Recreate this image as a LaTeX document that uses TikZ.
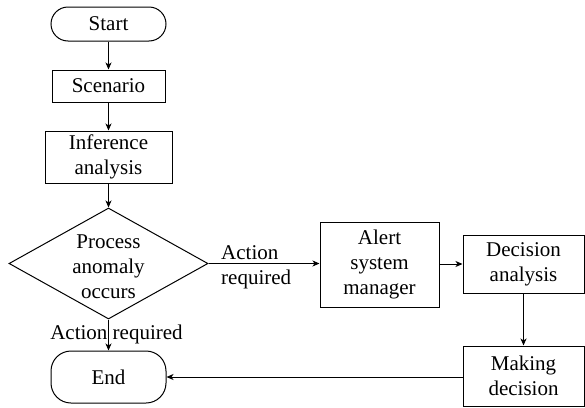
\documentclass[tikz,border=0pt]{standalone}
\usepackage{fontspec}
\setmainfont{Liberation Serif}
\usetikzlibrary{shapes.geometric,arrows.meta}
\begin{document}
\begin{tikzpicture}[x=1pt,y=-1pt,
  every node/.style={font=\fontsize{21}{25}\selectfont, inner sep=0pt},
  box/.style={draw, line width=1pt, align=center},
  term/.style={draw, line width=1pt, align=center},
  conn/.style={line width=1pt, -{Stealth[length=7pt,width=6pt,inset=2pt]}},
  lbl/.style={align=left}]
\useasboundingbox (0,0) rectangle (585,407);
\node[term, rounded corners=17pt, minimum width=115pt, minimum height=34pt] (start) at (108.5,24) {Start};
\node[box, minimum width=113pt, minimum height=32pt] (scen) at (108.5,86) {Scenario};
\node[box, minimum width=127pt, minimum height=52pt] (inf) at (108.5,157) {Inference\\analysis};
\node[diamond, draw, line width=1pt, minimum width=199pt, minimum height=111pt] (dec) at (108.5,263.5) {};
\node[align=center] (dectext) at (108.5,267) {Process\\anomaly\\occurs};
\node[box, minimum width=119pt, minimum height=85pt] (alert) at (379.5,264.5) {Alert\\system\\manager};
\node[box, minimum width=121pt, minimum height=58pt] (dana) at (523.5,264) {Decision\\analysis};
\node[box, minimum width=121pt, minimum height=60pt] (make) at (523.5,376) {Making\\decision};
\node[term, rounded corners=20pt, minimum width=115pt, minimum height=52pt] (end) at (108.5,377) {End};
\node[lbl, anchor=west] (lblright) at (221,267) {Action\\required};
\node (lblbottom) at (116.5,334) {Action required};
\draw[conn] (start) -- (scen);
\draw[conn] (scen) -- (inf);
\draw[conn] (inf) -- (dec.north);
\draw[conn] (dec.east) -- (alert.west |- dec.east);
\draw[conn] (alert.east |- dana.west) -- (dana.west);
\draw[conn] (dana) -- (make);
\draw[conn] (make.west |- end.east) -- (end.east);
\draw[conn] (dec.south) -- (end.north);
\end{tikzpicture}
\end{document}
